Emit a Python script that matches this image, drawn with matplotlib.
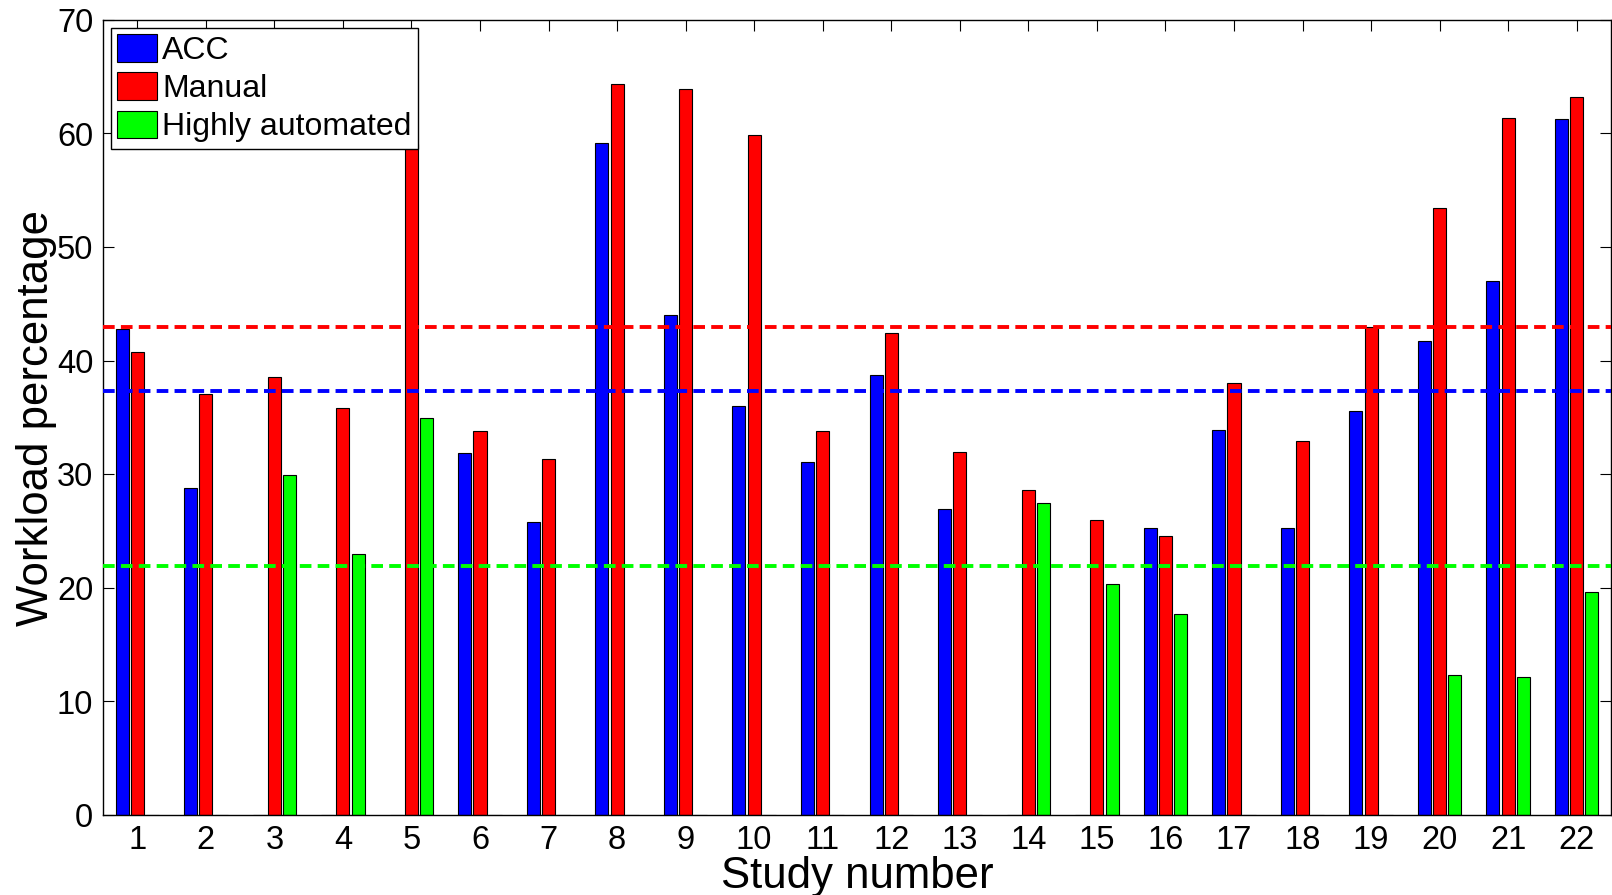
import numpy as np
import matplotlib
matplotlib.use("Agg")
import matplotlib.pyplot as plt
from matplotlib.patches import Patch

plt.rcParams['font.family'] = ['Liberation Sans', 'DejaVu Sans']

studies = list(range(1, 23))
acc = [42.8, 28.8, 0, 0, 0, 31.9, 25.8, 59.15, 44.0, 36.0, 31.1, 38.7, 26.9, 0, 0,
       25.26, 33.9, 25.26, 35.55, 41.7, 47.0, 61.3]
manual = [40.8, 37.05, 38.6, 35.8, 59.1, 33.8, 31.35, 64.4, 63.9, 59.9, 33.8, 42.4, 32.0,
          28.6, 25.95, 24.55, 38.05, 32.9, 42.95, 53.4, 61.35, 63.25]
highly = [0, 0, 29.95, 22.95, 34.95, 0, 0, 0, 0, 0, 0, 0, 0, 27.45, 20.3, 17.7, 0, 0, 0,
          12.3, 12.15, 19.6]
mean_acc = 37.35
mean_manual = 43.0
mean_highly = 21.95

labels = ['ACC', 'Manual', 'Highly automated']
colors = ['#0000ff', '#ff0000', '#00ff00']

fig = plt.figure(figsize=(16.12, 8.951), dpi=100)
ax = fig.add_axes([103 / 1612, 80 / 895, 1508 / 1612, 795 / 895])

x = np.array(studies, dtype=float)
off = 0.222
w = 0.19
for i, (vals, c) in enumerate(zip([acc, manual, highly], colors)):
    ax.bar(x + (i - 1) * off, vals, width=w, color=c, edgecolor='black', linewidth=0.8, zorder=2)

for m, c in zip([mean_manual, mean_acc, mean_highly], [colors[1], colors[0], colors[2]]):
    ax.axhline(m, color=c, linestyle=(0, (3.0, 1.6)), linewidth=2.8, zorder=3)

ax.set_xlim(0.5, 22.5)
ax.set_ylim(0, 70)
ax.set_xticks(studies)
ax.set_yticks(range(0, 71, 10))
ax.tick_params(axis='both', direction='in', length=8, width=0.8, top=True, right=True,
               labelsize=23.5, pad=7)
for s in ax.spines.values():
    s.set_linewidth(1.0)

ax.set_xlabel('Study number', fontsize=31.5, labelpad=0)
ax.set_ylabel('Workload percentage', fontsize=31.5, labelpad=0)

handles = [Patch(facecolor=c, edgecolor='black', linewidth=0.8) for c in colors]
leg = ax.legend(handles, labels, loc='upper left', fontsize=23, frameon=True, fancybox=False,
                framealpha=1, edgecolor='black', borderaxespad=0.25, borderpad=0.2,
                handlelength=1.25, handleheight=0.95, handletextpad=0.15, labelspacing=0.2)
leg.get_frame().set_linewidth(1.0)
leg.set_zorder(5)

fig.savefig('out.png', dpi=100)
